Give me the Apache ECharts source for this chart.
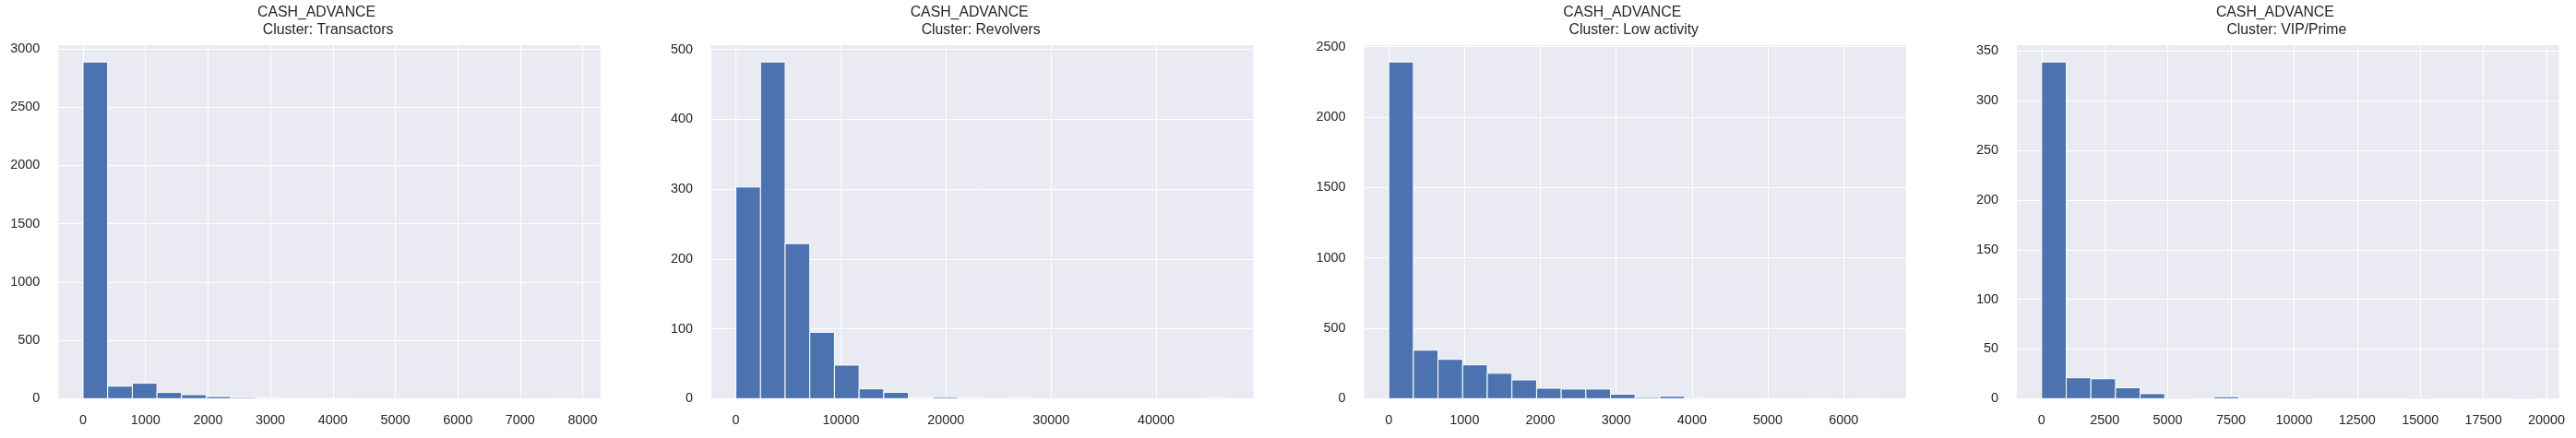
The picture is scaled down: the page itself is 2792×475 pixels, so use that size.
<!DOCTYPE html>
<html>
<head>
<meta charset="utf-8">
<script src="https://cdn.jsdelivr.net/npm/echarts@6/dist/echarts.min.js"></script>
<style>
  html, body { margin: 0; padding: 0; background: #ffffff; }
  #chart { width: 2792px; height: 475px; }
</style>
</head>
<body>
<div id="chart"></div>
<script>
// ---------------- data ----------------
const FEATURE = 'CASH_ADVANCE';
const CLUSTERS = ['Transactors', 'Revolvers', 'Low activity', 'VIP/Prime'];
const N_BINS = 20;
// maximum CASH_ADVANCE value in each cluster (histogram range is 0 .. max)
const DATA_MAX = [7890, 46900, 6500, 19520];

// bin counts (20 equal-width bins)
const COUNTS_TRANSACTORS = [2888, 107, 132, 53, 34, 18, 10, 5, 1, 1, 1, 0, 0, 0, 0, 0, 0, 0, 0, 1];
const COUNTS_REVOLVERS   = [303, 482, 222, 95, 48, 14, 9, 1, 2, 1, 0, 1, 0, 0, 0, 0, 0, 0, 0, 1];
const COUNTS_LOW_ACTIVITY = [2391, 344, 279, 240, 180, 133, 74, 68, 68, 31, 9, 17, 4, 0, 0, 0, 0, 1, 0, 1];
const COUNTS_VIP_PRIME   = [339, 21, 20, 11, 5, 1, 0, 2, 0, 0, 1, 0, 0, 0, 0, 1, 0, 0, 0, 1];
const COUNTS = [COUNTS_TRANSACTORS, COUNTS_REVOLVERS, COUNTS_LOW_ACTIVITY, COUNTS_VIP_PRIME];

// tick labels
const X_TICKS_TRANSACTORS = [0, 1000, 2000, 3000, 4000, 5000, 6000, 7000, 8000];
const X_TICKS_REVOLVERS   = [0, 10000, 20000, 30000, 40000];
const X_TICKS_LOW_ACTIVITY = [0, 1000, 2000, 3000, 4000, 5000, 6000];
const X_TICKS_VIP_PRIME   = [0, 2500, 5000, 7500, 10000, 12500, 15000, 17500, 20000];
const X_TICKS = [X_TICKS_TRANSACTORS, X_TICKS_REVOLVERS, X_TICKS_LOW_ACTIVITY, X_TICKS_VIP_PRIME];

const Y_TICKS_TRANSACTORS = [0, 500, 1000, 1500, 2000, 2500, 3000];
const Y_TICKS_REVOLVERS   = [0, 100, 200, 300, 400, 500];
const Y_TICKS_LOW_ACTIVITY = [0, 500, 1000, 1500, 2000, 2500];
const Y_TICKS_VIP_PRIME   = [0, 50, 100, 150, 200, 250, 300, 350];
const Y_TICKS = [Y_TICKS_TRANSACTORS, Y_TICKS_REVOLVERS, Y_TICKS_LOW_ACTIVITY, Y_TICKS_VIP_PRIME];

// ---------------- layout / style ----------------
const FONT = "'Liberation Sans', Arial, sans-serif";
const TEXT_COLOR = '#262626';
const BAR_COLOR = '#4c72b0';
const PLOT_BG = '#eaeaf2';
const GRID_LEFTS = [63.3, 770.9, 1478.5, 2186.1];
const GRID_TOP = 49;
const GRID_W = 587.5;
const GRID_H = 383.3;

const grids = [], xAxes = [], yAxes = [], series = [], titles = [];

CLUSTERS.forEach((name, i) => {
  const R = DATA_MAX[i];
  const counts = COUNTS[i];
  const binW = R / N_BINS;
  const items = counts.map((c, k) => [k * binW, (k + 1) * binW, c]);
  const yMax = Math.max.apply(null, counts) * 1.05;

  grids.push({
    left: GRID_LEFTS[i], top: GRID_TOP, width: GRID_W, height: GRID_H,
    show: true, backgroundColor: PLOT_BG, borderWidth: 0,
    containLabel: false, outerBoundsMode: 'none'
  });

  xAxes.push({
    type: 'value', gridIndex: i,
    min: -0.05 * R, max: 1.05 * R,
    axisLine: { show: false },
    axisTick: { show: false, customValues: X_TICKS[i] },
    axisLabel: {
      customValues: X_TICKS[i], margin: 17, fontSize: 14.4,
      color: TEXT_COLOR, fontFamily: FONT,
      formatter: v => String(v)
    },
    splitLine: { show: true, lineStyle: { color: '#ffffff', width: 1 } }
  });

  yAxes.push({
    type: 'value', gridIndex: i,
    min: 0, max: yMax,
    axisLine: { show: false },
    axisTick: { show: false, customValues: Y_TICKS[i] },
    axisLabel: {
      customValues: Y_TICKS[i], margin: 20, fontSize: 14.4,
      color: TEXT_COLOR, fontFamily: FONT,
      formatter: v => String(v)
    },
    splitLine: { show: true, lineStyle: { color: '#ffffff', width: 1 } }
  });

  series.push({
    type: 'custom', xAxisIndex: i, yAxisIndex: i,
    data: items,
    encode: { x: [0, 1], y: 2 },
    clip: false,
    renderItem: function (params, api) {
      const c = api.value(2);
      if (!c) return null;
      const p0 = api.coord([api.value(0), c]);
      const p1 = api.coord([api.value(1), 0]);
      return {
        type: 'rect',
        shape: { x: p0[0], y: p0[1], width: p1[0] - p0[0], height: p1[1] - p0[1] },
        style: { fill: BAR_COLOR, stroke: '#ffffff', lineWidth: 1 }
      };
    }
  });

  const cx = GRID_LEFTS[i] + GRID_W / 2;
  const ts = { fontSize: 15.8, fontWeight: 'normal', color: TEXT_COLOR, fontFamily: FONT, lineHeight: 16 };
  titles.push({ text: FEATURE, left: cx - 14, top: 5.9, textAlign: 'center', padding: 0, textStyle: ts });
  titles.push({ text: 'Cluster: ' + name, left: cx - 1.5, top: 24.2, textAlign: 'center', padding: 0, textStyle: ts });
});

const chart = echarts.init(document.getElementById('chart'), null, { renderer: 'canvas' });
chart.setOption({
  animation: false,
  backgroundColor: '#ffffff',
  title: titles,
  grid: grids,
  xAxis: xAxes,
  yAxis: yAxes,
  series: series
});
</script>
</body>
</html>
